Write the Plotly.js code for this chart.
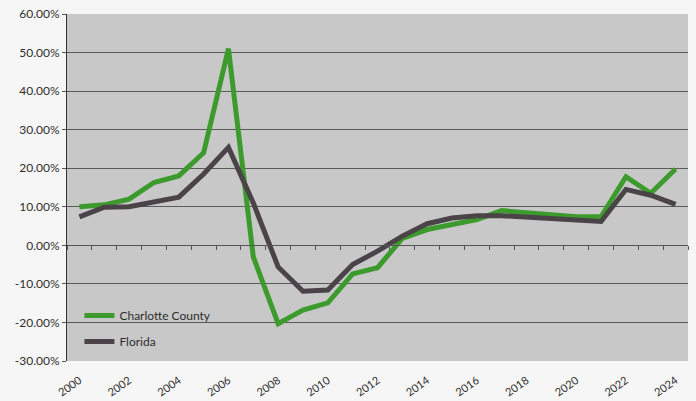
<!DOCTYPE html>
<html>
<head>
<meta charset="utf-8">
<script src="https://cdn.plot.ly/plotly-3.0.1.min.js"></script>
<style>html,body{margin:0;padding:0;background:#f6f6f6;}#chart{width:696px;height:401px;}</style>
</head>
<body>
<div id="chart"></div>
<script>
const years = ["2000","2001","2002","2003","2004","2005","2006","2007","2008","2009","2010","2011","2012","2013","2014","2015","2016","2017","2018","2019","2020","2021","2022","2023","2024"];
const charlotte = [10.0, 10.5, 12.0, 16.3, 18.0, 24.0, 51.0, -3.0, -20.3, -16.8, -14.9, -7.4, -5.8, 1.8, 4.1, 5.4, 6.7, 9.0, 8.4, 7.7, 7.4, 7.4, 17.8, 13.5, 19.8];
const florida = [7.4, 9.9, 10.0, 11.2, 12.5, 18.5, 25.4, 11.0, -5.6, -11.9, -11.6, -5.0, -1.5, 2.4, 5.6, 7.1, 7.7, 7.7, 7.4, 7.1, 6.8, 6.2, 14.5, 13.0, 10.6];
const xTickVals = ["2000","2002","2004","2006","2008","2010","2012","2014","2016","2018","2020","2022","2024"];
const yTickVals = [-30, -20, -10, 0, 10, 20, 30, 40, 50, 60];

const font = "Lato, 'Open Sans', sans-serif";
const traces = [
  {x: years, y: charlotte, name: "Charlotte County", type: "scatter", mode: "lines",
   line: {color: "#3d9b2d", width: 5}, legendgroup: "a"},
  {x: years, y: florida, name: "Florida", type: "scatter", mode: "lines",
   line: {color: "#4a4347", width: 5}, legendgroup: "b"},
  {x: years, y: years.map(() => null), xaxis: "x2", yaxis: "y", showlegend: false,
   hoverinfo: "skip", mode: "lines"}
];
const layout = {
  width: 696, height: 401,
  margin: {l: 67, r: 8, t: 14, b: 40},
  paper_bgcolor: "#f6f6f6",
  plot_bgcolor: "#c8c8c8",
  font: {family: font, size: 12, color: "#2e2e2e"},
  showlegend: true,
  legend: {x: 0.02, y: 0.173, xanchor: "left", yanchor: "top", bgcolor: "rgba(0,0,0,0)",
           font: {family: font, size: 12, color: "#2e2e2e"}, traceorder: "grouped", tracegroupgap: 7},
  xaxis: {type: "category", categoryorder: "array", categoryarray: years,
          range: [-0.5, 24.5], tickmode: "array", tickvals: xTickVals, ticktext: xTickVals,
          tickangle: -35, showgrid: false, zeroline: false, showline: false,
          ticks: "outside", ticklen: 8, tickcolor: "rgba(0,0,0,0)",
          tickfont: {family: font, size: 11, color: "#2e2e2e"}},
  xaxis2: {type: "category", categoryorder: "array", categoryarray: years,
           range: [-0.5, 24.5], overlaying: "x", anchor: "free", position: 1/3,
           showticklabels: false, ticks: "outside", ticklen: 4, tickcolor: "#555",
           tickson: "boundaries", showline: true, linecolor: "#555", linewidth: 1,
           showgrid: false, zeroline: false},
  yaxis: {range: [-30, 60], tickvals: yTickVals, ticktext: yTickVals.map(v => v.toFixed(2) + "%"),
          showgrid: true, gridcolor: "#5a5a5a", gridwidth: 1, zeroline: false,
          showline: true, linecolor: "#333", linewidth: 1, ticks: "outside", ticklen: 4,
          tickcolor: "#555", tickfont: {family: font, size: 12, color: "#2e2e2e"}}
};
Plotly.newPlot("chart", traces, layout, {displayModeBar: false, staticPlot: true});
</script>
</body>
</html>
